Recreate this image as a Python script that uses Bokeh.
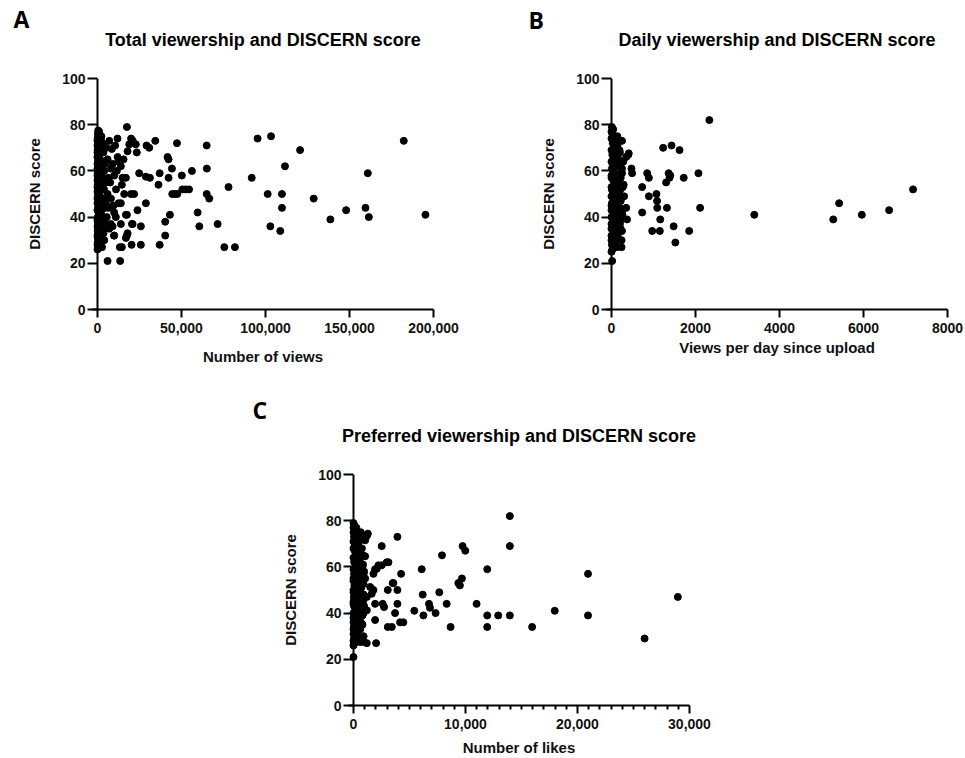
from bokeh.plotting import figure
from bokeh.models import FixedTicker, NumeralTickFormatter, Span, Range1d, LinearAxis
from bokeh.layouts import column, row
from bokeh.embed import file_html
from bokeh.resources import INLINE

# ---------------- data ----------------
# Panel A: total views vs DISCERN score
views_A_cluster = [0, 200, 100, 300, 0, 500, 150, 800, 50, 400, 1200, 0, 250, 700, 1500, 100, 350, 900, 0, 600,
                   2000, 200, 1100, 0, 450, 1700, 150, 800, 0, 300, 2500, 100, 1300, 0, 550, 2200, 250, 900, 0, 400,
                   1800, 120, 700, 0, 300, 1400, 80, 600, 200, 1000, 400, 2300, 3000, 3500, 2800, 4000, 3200, 2600, 3800, 4500,
                   3000, 2400, 3600, 1900, 2700, 4200, 5000, 4800, 4400, 5200, 3300, 2100, 1600, 1000, 500, 100, 2900, 3900, 4600, 1300,
                   2200, 1200, 600, 800, 300, 1500, 700, 2000, 0, 0, 0, 0, 0, 0, 0, 100, 200, 150, 50]
discern_A_cluster = [26, 27, 29, 31, 32, 33, 34, 35, 36, 37, 38, 39, 40, 41, 42, 43, 44, 45, 46, 47,
                     48, 49, 50, 51, 52, 53, 54, 55, 56, 57, 58, 59, 60, 61, 62, 63, 64, 65, 66, 67,
                     68, 69, 70, 71, 72, 73, 74, 75, 76, 77, 77.5, 75, 72, 68, 64, 60, 56, 52, 48, 44,
                     40, 36, 33, 30, 27, 38, 46, 55, 63, 70, 45, 42, 46, 58, 62, 66, 61, 52, 35, 33,
                     55, 71, 38, 50, 54, 65, 44, 74, 53, 48, 43, 63, 58, 68, 73, 38, 35, 31, 28]
views_A_spread = [7000, 8500, 11900, 12300, 13900, 9000, 8000, 14900, 16900, 15900, 19900, 13900, 12500, 9900, 10900,
                  16900, 13900, 7900, 7000, 9900, 17900, 16900, 20900, 6000, 7500, 10000, 11000, 6500, 12000, 8000,
                  6000, 9500, 14500, 11500, 5500, 6500, 15500, 10500, 9000,
                  17500, 95300, 103300, 182300, 120600, 111600, 91800, 160900, 101300, 109800, 128700, 109800, 148000,
                  159500, 161500, 138600, 195200, 102900, 108800, 71500, 75500, 81800, 78000, 59600, 60600, 56200,
                  65000, 65100, 65000, 66500, 50200, 50500, 52500, 54500, 44500, 46000, 47500, 47300, 41700, 42300,
                  44300, 37000, 36300, 42300, 43100, 40300, 40300, 37000, 34400, 29200, 30800, 28800, 31200, 28800,
                  23800, 25800, 25800, 20300, 17500, 24800, 21800, 20500, 17500, 13300, 14500, 6000, 13500, 4000,
                  9900, 20000, 21000, 18900, 17900, 23400, 22800]
discern_A_spread = [73, 69.5, 74, 64, 62, 63, 61, 57, 57, 50, 50, 46, 46, 42, 40,
                    41, 37, 37, 35, 32, 33, 31, 37, 50, 55, 58, 52, 44, 66, 48,
                    65, 45, 54, 60, 40, 57, 65, 71, 36,
                    79, 74, 75, 73, 69, 62, 57, 59, 50, 50, 48, 44, 43,
                    44, 40, 39, 41, 36, 34, 37, 27, 27, 53, 42, 36, 60,
                    71, 61, 50, 48, 58, 52, 52, 52, 50, 50, 50, 72, 66, 65,
                    61, 59, 54, 57, 41, 38, 32, 28, 73, 71, 70, 57.5, 57, 46,
                    43, 36, 28, 28, 32, 59, 50, 37, 41, 27, 27, 21, 21, 30,
                    32, 74, 73, 71.5, 68.5, 68, 71.5]
views_A = views_A_cluster + views_A_spread
discern_A = discern_A_cluster + discern_A_spread

# Panel B: views per day vs DISCERN score
perday_B_cluster = [0, 20, 60, 10, 100, 30, 150, 0, 80, 200, 40, 120, 0, 60, 180, 20, 90, 240, 0, 130,
                    50, 10, 170, 70, 0, 110, 30, 210, 0, 90, 150, 40, 0, 120, 60, 230, 10, 80, 160, 0,
                    50, 110, 20, 200, 0, 70, 140, 30, 100, 0, 60, 20, 0, 40, 10, 250, 270, 180, 220, 260,
                    200, 160, 240, 130, 280, 190, 220, 150, 100, 60, 30, 0, 50, 90, 140, 180, 120, 90, 170, 250,
                    30, 70, 120, 160, 200, 230, 100, 140, 10, 80, 40, 0, 0, 0, 0, 300, 290, 215, 250]
discern_B_cluster = [25, 26, 27, 28, 29, 30, 31, 32, 33, 34, 35, 36, 37, 38, 39, 40, 41, 42, 43, 44,
                     45, 46, 47, 48, 49, 50, 51, 52, 53, 54, 55, 56, 57, 58, 59, 60, 61, 62, 63, 64,
                     65, 66, 67, 68, 69, 70, 71, 72, 73, 74, 75, 76, 77, 78, 79, 59, 53, 51, 47, 41,
                     37, 33, 30, 27, 64, 62, 57, 49, 45, 42, 38, 35, 31, 28, 75, 73, 69, 66, 65, 61,
                     63, 57, 53, 50, 44, 39, 36, 40, 52, 47, 60, 58, 45, 40, 30, 49, 54, 35, 43]
perday_B_spread = [2330, 1230, 1430, 1620, 400, 350, 475, 490, 730, 890, 850, 1360, 1380, 1300, 1400, 1720, 2070,
                   890, 1070, 1085, 730, 1090, 1320, 1160, 970, 1150, 1480, 1520, 1850, 2110, 3400, 5280, 5420,
                   5960, 6610, 7180, 350, 370, 240, 250, 250, 190, 16, 410]
discern_B_spread = [82, 70, 71, 69, 67, 66, 61, 59, 53, 57, 59, 59, 57, 55, 58, 57, 59,
                    49, 50, 47, 42, 44, 44, 39, 34, 34, 36, 29, 34, 44, 41, 39, 46,
                    41, 43, 52, 44, 39, 27, 34, 73, 69, 21, 67.6]
perday_B = perday_B_cluster + perday_B_spread
discern_B = discern_B_cluster + discern_B_spread

# Panel C: likes vs DISCERN score
likes_C_cluster = [0, 100, 250, 50, 400, 0, 150, 600, 30, 300, 0, 500, 100, 800, 0, 200, 650, 50, 350, 0,
                   550, 150, 900, 0, 250, 700, 80, 450, 0, 300, 750, 120, 500, 0, 200, 850, 60, 400, 0, 300,
                   600, 100, 0, 450, 200, 0, 700, 50, 350, 0, 150, 0, 80, 0, 900, 800, 950, 700, 600, 850,
                   750, 650, 500, 900, 400, 250, 150, 550, 300, 200, 100, 700, 600, 500, 400, 300, 100, 200, 350, 450,
                   50, 0, 0, 0, 0, 0, 0, 650, 850, 750, 100, 250, 550, 950, 800, 900, 120, 30, 500]
discern_C_cluster = [26, 27, 28, 29, 30, 31, 32, 33, 34, 35, 36, 37, 38, 39, 40, 41, 42, 43, 44, 45,
                     46, 47, 48, 49, 50, 51, 52, 53, 54, 55, 56, 57, 58, 59, 60, 61, 62, 63, 64, 65,
                     66, 67, 68, 69, 70, 71, 72, 73, 74, 75, 76, 77, 78, 79, 57, 60, 58, 47, 52, 45,
                     41, 36, 33, 30, 49, 45, 41, 40, 38, 34, 31, 58, 61, 71, 75, 67, 63, 55, 51, 47,
                     57, 55, 50, 44, 38, 33, 28, 75, 65, 68, 73, 77, 63, 43, 35, 40, 70, 47, 55]
likes_C_spread = [13960, 13960, 3920, 2520, 1280, 1190, 1040, 9740, 9980, 7900, 6090, 11940, 20940, 4250, 1930,
                  1780, 2520, 2970, 3120, 3560, 3060, 3920, 3920, 3710, 4160, 4450, 3060, 2610, 2730, 1930,
                  1930, 2020, 1190, 890, 590, 5430, 6180, 6240, 6830, 6740, 7330, 7660, 8320, 8670, 9360,
                  9500, 9680, 10990, 11940, 11940, 12920, 13960, 15950, 17970, 20940, 25990, 28960, 3420, 1040, 2230,
                  2080, 1490, 1780, 1630, 3500, 1190, 1040, 890, 1190, 740, 590, 0]
discern_C_spread = [82, 69, 73, 69, 74.4, 73.4, 71.5, 69, 67, 65, 59, 59, 57, 57, 59,
                    57, 60.7, 62, 62, 53, 50, 50, 44, 40, 36, 36, 34, 44, 42.6, 37,
                    44, 27, 27, 27.5, 27.5, 41, 48, 39, 42.3, 44, 40, 49, 44, 34, 53,
                    52, 55, 44, 39, 34, 39, 39, 34, 41, 39, 29, 47, 34, 64.6, 60.7,
                    59.2, 51.3, 50, 48.4, 53, 41.2, 55, 52.7, 47, 35.4, 34, 21]
likes_C = likes_C_cluster + likes_C_spread
discern_C = discern_C_cluster + discern_C_spread

y_ticks = [0, 20, 40, 60, 80, 100]
x_ticks_A = [0, 50000, 100000, 150000, 200000]
x_ticks_B = [0, 2000, 4000, 6000, 8000]
x_ticks_C = [0, 10000, 20000, 30000]
x_minor_C = [v for v in range(1000, 30000, 1000) if v % 10000 != 0]

FONT = "Liberation Sans"
INK = "#111111"
AXIS_PX = 336   # pixel length of the x axis from 0 to its maximum
PAD_PX = 5      # frame room left of the y axis, so dots at x=0 are not cut


def panel(xs, ys, xmax, xticks, minor, fmt, title, xlabel, letter,
          bl, bt, fh, br, bb, title_standoff, xlab_standoff, letter_offset, letter_standoff):
    fw = AXIS_PX + PAD_PX
    px = xmax / AXIS_PX
    p = figure(width=bl + fw + br, height=bt + fh + bb, frame_width=fw, frame_height=fh,
               min_border_left=bl, min_border_top=bt, min_border_right=br, min_border_bottom=bb,
               x_range=Range1d(-PAD_PX * px, xmax), y_range=Range1d(0, 100),
               output_backend="svg", toolbar_location=None)
    p.outline_line_color = None
    p.xgrid.visible = False
    p.ygrid.visible = False
    p.background_fill_color = "white"
    p.border_fill_color = "white"

    p.scatter(xs, ys, size=7, fill_color="black", line_color="black")

    # main x axis (below)
    xa = p.below[0]
    xa.ticker = FixedTicker(ticks=xticks, minor_ticks=minor)
    xa.formatter = NumeralTickFormatter(format=fmt)
    xa.axis_line_width = 2
    xa.axis_line_color = "black"
    xa.major_tick_line_width = 2
    xa.major_tick_line_color = "black"
    xa.major_tick_out = 8
    xa.major_tick_in = 0
    xa.minor_tick_line_width = 2
    xa.minor_tick_line_color = "black" if minor else None
    xa.minor_tick_out = 4
    xa.minor_tick_in = 0
    xa.major_label_standoff = 5
    xa.major_label_text_font = FONT
    xa.major_label_text_font_style = "bold"
    xa.major_label_text_font_size = "14px"
    xa.major_label_text_color = INK
    xa.axis_label = xlabel
    xa.axis_label_text_font = FONT
    xa.axis_label_text_font_style = "bold"
    xa.axis_label_text_font_size = "15px"
    xa.axis_label_text_color = INK
    xa.axis_label_standoff = xlab_standoff

    ya = p.left[0]
    ya.ticker = FixedTicker(ticks=y_ticks)
    ya.axis_line_color = None
    ya.major_tick_line_width = 2
    ya.major_tick_line_color = "black"
    ya.major_tick_out = 5
    ya.major_tick_in = 5
    ya.minor_tick_line_color = None
    ya.major_label_standoff = 2
    ya.major_label_text_font = FONT
    ya.major_label_text_font_style = "bold"
    ya.major_label_text_font_size = "14px"
    ya.major_label_text_color = INK
    ya.axis_label = "DISCERN score"
    ya.axis_label_text_font = FONT
    ya.axis_label_text_font_style = "bold"
    ya.axis_label_text_font_size = "15px"
    ya.axis_label_text_color = INK
    ya.axis_label_standoff = 16

    # chart title: a bare axis above the frame, whose label is the title
    ta = LinearAxis(ticker=FixedTicker(ticks=[]), axis_line_color=None,
                    major_tick_line_color=None, minor_tick_line_color=None,
                    major_tick_out=0, major_tick_in=0, minor_tick_out=0, minor_tick_in=0,
                    major_label_standoff=0, major_label_text_font_size="0px",
                    axis_label=title, axis_label_text_font=FONT, axis_label_text_font_style="bold",
                    axis_label_text_font_size="18px", axis_label_text_color="black",
                    axis_label_standoff=title_standoff)
    p.add_layout(ta, "above")

    # panel letter as the plot title, pushed left of the frame
    p.title.text = letter
    p.title.align = "left"
    p.title.offset = letter_offset
    p.title.standoff = letter_standoff
    p.title.text_font = "Open Sans"
    p.title.text_font_style = "bold"
    p.title.text_font_size = "23px"
    p.title.text_color = "black"

    p.add_layout(Span(location=0, dimension="height", line_color="black", line_width=2))
    return p


pA = panel(views_A, discern_A, 200000, x_ticks_A, [], "0,0",
           "Total viewership and DISCERN score", "Number of views", "A",
           92, 78, 231, 47, 61, 29, 12, -79, -16)
pB = panel(perday_B, discern_B, 8000, x_ticks_B, [], "0",
           "Daily viewership and DISCERN score", "Views per day since upload", "B",
           126, 78, 231, 18, 61, 29, 3, -78, -18)
pC = panel(likes_C, discern_C, 30000, x_ticks_C, x_minor_C, "0,0",
           "Preferred viewership and DISCERN score", "Number of likes", "C",
           348, 104, 231, 40, 53, 29, 7, -96, -6)

layout = column(row(pA, pB), pC)
open("out.html", "w").write(file_html(layout, INLINE))
